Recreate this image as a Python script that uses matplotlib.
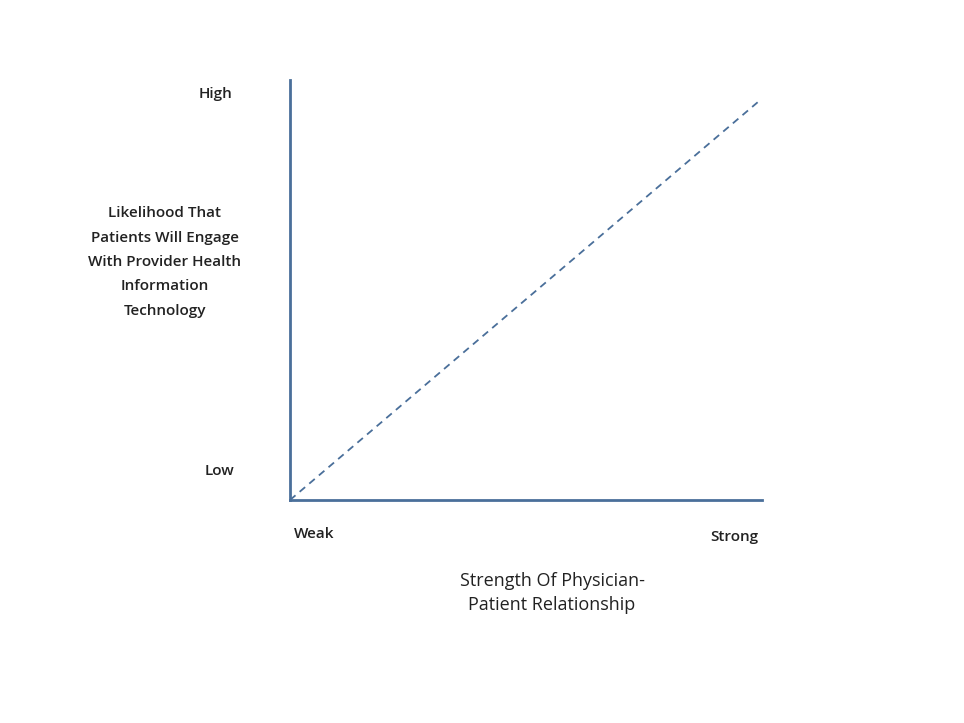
import matplotlib.pyplot as plt

# conceptual relationship: weak -> strong, low -> high
x_vals = [0.0, 0.996]
y_vals = [0.0, 0.952]
x_ticks = ["Weak", "Strong"]
y_ticks = ["Low", "High"]
x_title = "Strength Of Physician-\nPatient Relationship"
y_title = "Likelihood That\nPatients Will Engage\nWith Provider Health\nInformation\nTechnology"

col = "#4a6f9a"
plt.rcParams['font.family'] = ['Open Sans', 'DejaVu Sans']

fig = plt.figure(figsize=(9.64, 7.23), dpi=100)
ax = fig.add_axes([290/964, (723-500)/723, 472/964, 420/723])
ax.plot(x_vals, y_vals, linestyle=(0, (4, 3)), color=col, lw=1.3)
ax.set_xlim(0, 1)
ax.set_ylim(0, 1)
for s in ['top', 'right']:
    ax.spines[s].set_visible(False)
for s in ['left', 'bottom']:
    ax.spines[s].set_color(col)
    ax.spines[s].set_linewidth(2)
ax.set_xticks([])
ax.set_yticks([])

tk = dict(fontsize=11, fontweight='semibold', color='#222222')
fig.text(314/964, 1-534/723, x_ticks[0], ha='center', va='center', **tk)
fig.text(734/964, 1-537/723, x_ticks[1], ha='center', va='center', **tk)
fig.text(220/964, 1-471/723, y_ticks[0], ha='center', va='center', **tk)
fig.text(216/964, 1-94/723, y_ticks[1], ha='center', va='center', **tk)
fig.text(165/964, 1-262/723, y_title, ha='center', va='center',
         linespacing=1.95, **tk)
fig.text(552/964, 1-593/723, x_title, ha='center', va='center',
         fontsize=13, color='#222222', linespacing=1.4)

fig.savefig('out.png', dpi=100)
